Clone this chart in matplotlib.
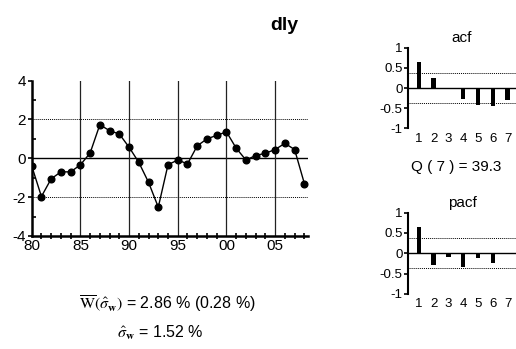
import matplotlib.pyplot as plt
import numpy as np

plt.rcParams['font.family'] = ['Liberation Sans', 'DejaVu Sans']
plt.rcParams['mathtext.fontset'] = 'stix'
plt.rcParams['axes.unicode_minus'] = False

# annual series
years = np.arange(1980, 2009)
dly = [-0.39, -1.97, -1.06, -0.70, -0.70, -0.34, 0.27, 1.73, 1.42, 1.25,
       0.57, -0.21, -1.24, -2.52, -0.33, -0.09, -0.29, 0.64, 1.00, 1.18,
       1.36, 0.52, -0.09, 0.14, 0.26, 0.45, 0.77, 0.45, -1.30]

# correlograms
lags = np.arange(1, 8)
acf = [0.65, 0.26, -0.01, -0.27, -0.43, -0.45, -0.30]
pacf = [0.65, -0.28, -0.10, -0.34, -0.12, -0.25, -0.01]
band = 0.37

fig = plt.figure(figsize=(5.16, 3.49), dpi=100)

# main series panel
ax = fig.add_axes([0.0614, 0.324, 0.536, 0.445])
ax.plot(years, dly, color='black', lw=1, marker='o', ms=4.8, zorder=3)
ax.axhline(0, color='black', lw=1)
for y in (-2, 2):
    ax.axhline(y, color='black', lw=0.7, ls=(0, (1, 1)))
for x in (1985, 1990, 1995, 2000, 2005):
    ax.axvline(x, color='#222222', lw=0.9)
ax.set_xlim(1980, 2008.4)
ax.set_ylim(-4, 4)
ax.set_yticks([-4, -2, 0, 2, 4])
ax.set_yticks([-3, -1, 1, 3], minor=True)
ax.set_xticks([1980, 1985, 1990, 1995, 2000, 2005])
ax.set_xticklabels(['80', '85', '90', '95', '00', '05'])
ax.set_xticks(years, minor=True)
ax.tick_params(axis='y', which='major', direction='out', length=3, width=1.2, labelsize=11, pad=1)
ax.tick_params(axis='y', which='minor', direction='in', length=3, width=1.2)
ax.tick_params(axis='x', which='both', direction='inout', length=5, width=1.2, labelsize=11, pad=2)
ax.tick_params(axis='x', which='major', length=0)
for s in ('top', 'right'):
    ax.spines[s].set_visible(False)
for s in ('left', 'bottom'):
    ax.spines[s].set_linewidth(1.8)

fig.text(0.551, 0.915, 'dly', fontsize=14, fontweight='bold', ha='center')


def correlogram(pos, vals, title):
    a = fig.add_axes(pos)
    a.bar(lags, vals, width=0.3, color='black')
    a.axhline(0, color='black', lw=1)
    for y in (-band, band):
        a.axhline(y, color='black', lw=0.7, ls=(0, (1, 1)))
    a.set_xlim(0.28, 7.56)
    a.set_ylim(-1, 1)
    a.set_yticks([-1, -0.5, 0, 0.5, 1])
    a.set_yticklabels(['-1', '-0.5', '0', '0.5', '1'])
    a.set_xticks(lags)
    a.tick_params(axis='y', direction='out', length=3, width=1.2, labelsize=9.5, pad=1)
    a.tick_params(axis='x', length=0, labelsize=9.5, pad=3)
    for s in ('top', 'right', 'bottom'):
        a.spines[s].set_visible(False)
    a.spines['left'].set_linewidth(1.5)
    a.set_title(title, fontsize=11, pad=4)
    return a


correlogram([0.791, 0.632, 0.209, 0.231], acf, 'acf')
fig.text(0.885, 0.522, 'Q ( 7 ) = 39.3', fontsize=11, ha='center', va='center')
correlogram([0.791, 0.158, 0.209, 0.233], pacf, 'pacf')

fig.text(0.325, 0.13, r'$\overline{\mathrm{W}}(\hat{\sigma}_{\mathbf{w}})$ = 2.86 % (0.28 %)',
         fontsize=11.5, ha='center', va='center')
fig.text(0.31, 0.045, r'$\hat{\sigma}_{\mathbf{w}}$ = 1.52 %',
         fontsize=11.5, ha='center', va='center')

fig.savefig('out.png', dpi=100)
